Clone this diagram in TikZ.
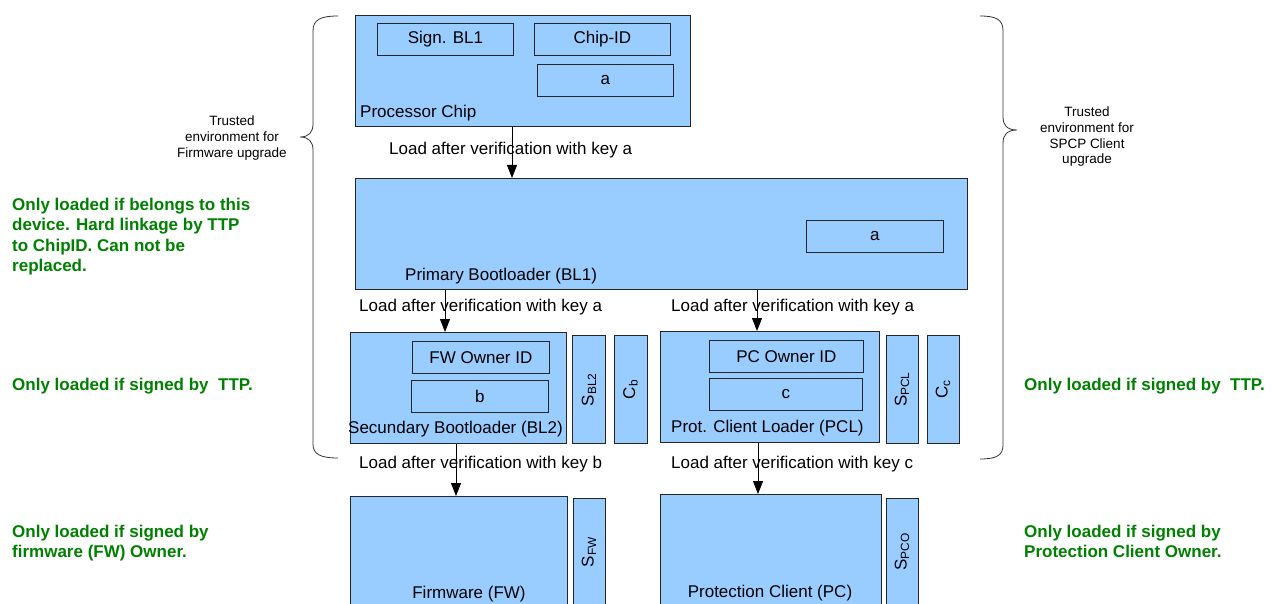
\documentclass[tikz,border=0pt]{standalone}
\usepackage{fontspec}
\setmainfont{Liberation Sans}
\usetikzlibrary{arrows.meta}

\definecolor{boxblue}{HTML}{99CCFF}
\definecolor{notegreen}{HTML}{008000}
\newcommand{\boxfont}{\fontsize{17}{20.1}\selectfont}
\newcommand{\trustfont}{\fontsize{13.5}{15.8}\selectfont}

\begin{document}
\begin{tikzpicture}[x=1pt, y=-1pt,
    box/.style={draw=black!85, line width=0.8pt, fill=boxblue, inner sep=0pt, anchor=north west, font=\boxfont},
    sigbox/.style={draw=black!85, line width=0.8pt, fill=boxblue, inner sep=0pt, rotate=90, font=\boxfont},
    txt/.style={inner sep=0pt, font=\boxfont},
    note/.style={inner sep=0pt, align=left, text=notegreen, font=\boxfont\bfseries},
    trust/.style={inner sep=0pt, align=center, font=\trustfont},
    arr/.style={line width=0.8pt, -{Triangle[length=13pt, width=10pt]}},
    brace/.style={line width=0.8pt, black!80}]
    \useasboundingbox (0,0) rectangle (1273,604);

    % Processor chip
    \node[box, minimum width=335pt, minimum height=111pt] (chip) at (355,15) {};
    \node[box, minimum width=136pt, minimum height=32pt] (signbl1) at (377,23) {Sign. BL1};
    \node[box, minimum width=136pt, minimum height=32pt] (chipid) at (534,23) {Chip-ID};
    \node[box, minimum width=136pt, minimum height=32pt] (keyachip) at (537,64) {a};
    \node[txt, anchor=base west] (chiplbl) at (360,118) {Processor Chip};

    % Primary bootloader
    \node[box, minimum width=612pt, minimum height=111pt] (bl1) at (355,178) {};
    \node[box, minimum width=137pt, minimum height=32pt] (keyabl1) at (806,220) {a};
    \node[txt, anchor=base west] (bl1lbl) at (405,280) {Primary Bootloader (BL1)};

    % Secundary bootloader
    \node[box, minimum width=216pt, minimum height=111pt] (bl2) at (350,332) {};
    \node[box, minimum width=137pt, minimum height=32pt] (fwid) at (412,341) {FW Owner ID};
    \node[box, minimum width=137pt, minimum height=32pt] (keyb) at (411,380) {b};
    \node[txt, anchor=base west] (bl2lbl) at (348,433) {Secundary Bootloader (BL2)};
    \node[sigbox, minimum width=108pt, minimum height=33pt] (sbl2) at (589,389.5) {S\textsubscript{BL2}};
    \node[sigbox, minimum width=108pt, minimum height=33pt] (cb) at (630.5,389.5) {C\textsubscript{b}};

    % Prot. client loader
    \node[box, minimum width=219pt, minimum height=111pt] (pcl) at (660,331) {};
    \node[box, minimum width=154pt, minimum height=32pt] (pcid) at (709,340) {PC Owner ID};
    \node[box, minimum width=153pt, minimum height=32pt] (keyc) at (709,378) {c};
    \node[txt, anchor=base west] (pcllbl) at (671,432) {Prot. Client Loader (PCL)};
    \node[sigbox, minimum width=108pt, minimum height=32pt] (spcl) at (902,389.5) {S\textsubscript{PCL}};
    \node[sigbox, minimum width=108pt, minimum height=32pt] (cc) at (943,389.5) {C\textsubscript{c}};

    % Firmware and protection client
    \node[box, minimum width=217pt, minimum height=112pt] (fw) at (350,496) {};
    \node[txt, anchor=base] (fwlbl) at (469,598) {Firmware (FW)};
    \node[sigbox, minimum width=108pt, minimum height=32pt] (sfw) at (589,552) {S\textsubscript{FW}};
    \node[box, minimum width=221pt, minimum height=114pt] (pc) at (660,494) {};
    \node[txt, anchor=base] (pclbl) at (770,597) {Protection Client (PC)};
    \node[sigbox, minimum width=108pt, minimum height=32pt] (spco) at (902,552) {S\textsubscript{PCO}};

    % Loading arrows
    \coordinate (xchip) at (512,0);
    \coordinate (xbl2) at (445,0);
    \coordinate (xpcl) at (757,0);
    \coordinate (xfw) at (456,0);
    \coordinate (xpc) at (758,0);
    \draw[arr] (chip.south -| xchip) -- (bl1.north -| xchip);
    \draw[arr] (bl1.south -| xbl2) -- (bl2.north -| xbl2);
    \draw[arr] (bl1.south -| xpcl) -- (pcl.north -| xpcl);
    \draw[arr] (bl2.south -| xfw) -- (fw.north -| xfw);
    \draw[arr] (pcl.south -| xpc) -- (pc.north -| xpc);
    \node[txt, anchor=base west] (load1) at (389,155) {Load after verification with key a};
    \node[txt, anchor=base west] (load2) at (359,311) {Load after verification with key a};
    \node[txt, anchor=base west] (load3) at (671,311) {Load after verification with key a};
    \node[txt, anchor=base west] (load4) at (359,468) {Load after verification with key b};
    \node[txt, anchor=base west] (load5) at (671,468) {Load after verification with key c};

    % Braces
    \draw[brace] (338,16) .. controls (320,16) and (313,20) .. (313,31) -- (313,124)
        .. controls (313,132) and (309,137) .. (300,137)
        .. controls (309,137) and (313,142) .. (313,150) -- (313,444)
        .. controls (313,454) and (320,458) .. (338,458);
    \draw[brace] (980,16) .. controls (997,16) and (1003,20) .. (1003,31) -- (1003,117)
        .. controls (1003,125) and (1007,130) .. (1017,130)
        .. controls (1007,130) and (1003,135) .. (1003,143) -- (1003,445)
        .. controls (1003,455) and (997,459) .. (980,459);
    \node[trust, anchor=north] (trustfw) at (232,115.5) {Trusted\\environment for\\Firmware upgrade};
    \node[trust, anchor=north] (trustpc) at (1087,106.5) {Trusted\\environment for\\SPCP Client\\upgrade};

    % Notes
    \node[note, anchor=north west] (notebl1) at (12,198.3) {Only loaded if belongs to this\\device. Hard linkage by TTP\\to ChipID. Can not be\\replaced.};
    \node[note, anchor=base west] (notebl2) at (12,390) {Only loaded if signed by\ \ TTP.};
    \node[note, anchor=base west] (notepcl) at (1024,390) {Only loaded if signed by\ \ TTP.};
    \node[note, anchor=north west] (notefw) at (12,524.6) {Only loaded if signed by\\firmware (FW) Owner.};
    \node[note, anchor=north west] (notepc) at (1024,524.6) {Only loaded if signed by\\Protection Client Owner.};
\end{tikzpicture}
\end{document}
